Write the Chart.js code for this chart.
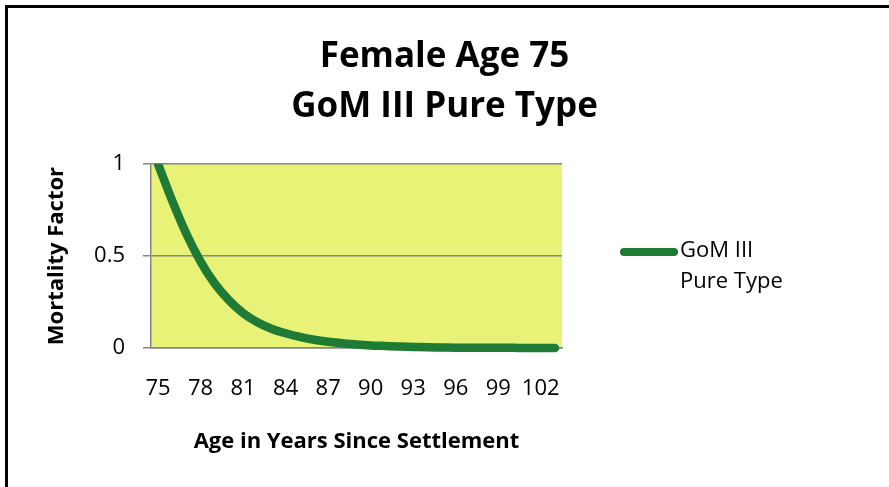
<!DOCTYPE html>
<html lang="en">
<head>
    <meta charset="UTF-8">
    <title>Female Age 75 - GoM III Pure Type</title>
    <style>
        body { margin: 0; background: white; overflow: hidden; }
        #wrap { position: relative; width: 889px; height: 487px; }
        #frame { position: absolute; left: 5px; top: 5px; width: 900px; height: 500px;
                 border-left: 3px solid #000; border-top: 3px solid #000; pointer-events: none; }
        canvas { position: absolute; left: 0; top: 0; }
    </style>
    <script src="https://cdn.jsdelivr.net/npm/chart.js"></script>
</head>
<body>
    <div id="wrap">
        <canvas id="chart" width="889" height="487"></canvas>
        <div id="frame"></div>
    </div>

    <script>
        const ages = [75, 76, 77, 78, 79, 80, 81, 82, 83, 84, 85, 86, 87, 88, 89,
                      90, 91, 92, 93, 94, 95, 96, 97, 98, 99, 100, 101, 102, 103];
        const mortality = [1.0, 0.80, 0.62, 0.47, 0.35, 0.26, 0.19, 0.14, 0.105, 0.08, 0.06, 0.045, 0.034, 0.026, 0.019,
                           0.014, 0.011, 0.008, 0.006, 0.004, 0.003, 0.002, 0.002, 0.001, 0.001, 0.001, 0, 0, 0];
        const yTicks = [0, 0.5, 1];
        const titleLines = ["Female Age 75", "GoM III Pure Type"];
        const seriesName = ["GoM III", "Pure Type"];

        const font = "'Open Sans'";
        const green = "#1e7a34";

        // yellow plot area
        const plotBg = {
            id: "plotBg",
            beforeDraw(chart) {
                const { ctx, chartArea: a } = chart;
                ctx.save();
                ctx.fillStyle = "#e7f277";
                ctx.fillRect(a.left, a.top, a.right - a.left, a.bottom - a.top);
                ctx.restore();
            }
        };

        // legend with the label on two lines, like the original
        const sideLegend = {
            id: "sideLegend",
            afterDraw(chart) {
                const ctx = chart.ctx;
                const ds = chart.data.datasets[0];
                ctx.save();
                ctx.strokeStyle = ds.borderColor;
                ctx.lineWidth = 8;
                ctx.lineCap = "round";
                ctx.beginPath();
                ctx.moveTo(624, 252);
                ctx.lineTo(674, 252);
                ctx.stroke();
                ctx.fillStyle = "#000";
                ctx.font = "22px " + font;
                ctx.textBaseline = "middle";
                ctx.textAlign = "left";
                ds.label.forEach((t, i) => ctx.fillText(t, 680, 251 + i * 31));
                ctx.restore();
            }
        };

        new Chart(document.getElementById("chart"), {
            type: "line",
            data: {
                labels: ages,
                datasets: [{
                    label: seriesName,
                    data: mortality,
                    borderColor: green,
                    borderWidth: 8.5,
                    borderCapStyle: "round",
                    pointRadius: 0,
                    cubicInterpolationMode: "monotone",
                    clip: { left: 10, top: 0, right: 10, bottom: 10 }
                }]
            },
            options: {
                responsive: false,
                animation: false,
                plugins: {
                    legend: { display: false },
                    tooltip: { enabled: false },
                    title: {
                        display: true,
                        text: titleLines,
                        color: "#000",
                        font: { family: font, size: 35, weight: "bold", lineHeight: 1.43 },
                        padding: { top: 32, bottom: 32 }
                    }
                },
                scales: {
                    x: {
                        offset: true,
                        grid: { display: false },
                        border: { display: true, color: "#868686", width: 1.5 },
                        ticks: {
                            color: "#000",
                            font: { family: font, size: 22 },
                            padding: 20,
                            autoSkip: false,
                            maxRotation: 0,
                            callback: (v, i) => (i % 3 === 0 ? ages[i] : "")
                        },
                        title: {
                            display: true,
                            text: "Age in Years Since Settlement",
                            color: "#000",
                            font: { family: font, size: 22, weight: "bold" },
                            padding: { top: 0, bottom: 32 }
                        },
                        afterFit: s => { s.height = 139; }
                    },
                    y: {
                        min: 0,
                        max: 1,
                        afterBuildTicks: s => { s.ticks = yTicks.map(v => ({ value: v })); },
                        grid: { color: "#868686", lineWidth: 1.5, tickLength: 8 },
                        border: { display: true, color: "#868686", width: 1.5 },
                        ticks: {
                            color: "#000",
                            font: { family: font, size: 22 },
                            padding: 18,
                            callback: v => String(v)
                        },
                        title: {
                            display: true,
                            text: "Mortality Factor",
                            color: "#000",
                            font: { family: font, size: 22, weight: "bold" },
                            padding: { top: 44, bottom: 0 }
                        },
                        afterFit: s => { s.width = 151; }
                    },
                    // empty right axis keeps room for the legend
                    side: {
                        position: "right",
                        display: true,
                        grid: { display: false },
                        border: { display: false },
                        ticks: { display: false },
                        afterFit: s => { s.width = 327; }
                    }
                }
            },
            plugins: [plotBg, sideLegend]
        });
    </script>
</body>
</html>
